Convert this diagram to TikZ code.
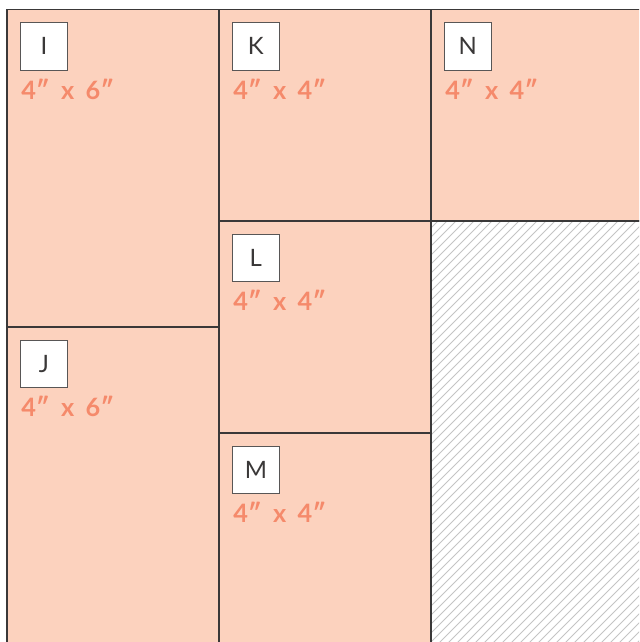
\documentclass[tikz,border=0pt]{standalone}
\usepackage{fontspec}
\setmainfont{Lato}
\usepackage{xcolor}
\usetikzlibrary{positioning}

\definecolor{peach}{HTML}{FCD2BE}
\definecolor{salmon}{HTML}{F58A6B}
\definecolor{edge}{HTML}{3A3838}
\definecolor{hatchgray}{HTML}{C4C4C4}

\newcommand{\dimsfont}{\fontsize{18}{18}\selectfont\bfseries\spaceskip=0.45em\relax}

\tikzset{
	cell/.style={fill=peach, draw=edge, line width=0.8pt},
	tag/.style={draw=edge!85, line width=0.5pt, fill=white, anchor=north west, minimum width=1.175cm, minimum height=1.175cm, inner sep=0pt, text=edge, font=\fontsize{17}{17}\selectfont},
	dims/.style={text=salmon, anchor=base west, inner sep=0pt, font=\dimsfont},
}

\begin{document}
\begin{tikzpicture}[x=0.025cm, y=-0.025cm]
		\useasboundingbox (0, 0) rectangle (639, 642);
		\clip (0, 0) rectangle (639, 642);
		% Blocks:
		\filldraw[cell] (7, 9.5) rectangle (219, 327);
		\filldraw[cell] (7, 327) rectangle (219, 660);
		\filldraw[cell] (219, 9.5) rectangle (431, 221);
		\filldraw[cell] (219, 221) rectangle (431, 433);
		\filldraw[cell] (219, 433) rectangle (431, 660);
		\filldraw[cell] (431, 9.5) rectangle (660, 221);
		% Empty corner, hatched:
		\begin{scope}
			\clip (431, 221) rectangle (660, 660);
			\foreach \i in {0,...,75}
				\draw[hatchgray, line width=0.6pt] (431 - 450 + \i*9, 660) -- ++(450, -450);
		\end{scope}
		\draw[edge, line width=0.8pt] (431, 221) -- (431, 660);
		\draw[edge, line width=0.8pt] (431, 221) -- (660, 221);
		% Tags and sizes:
		\node[tag](T1) at (20, 22.5){I};
		\node[dims](S1) at ([xshift=0.025cm, yshift=-0.725cm]T1.south west){4″ x 6″};
		\node[tag](T2) at (20, 340){J};
		\node[dims](S2) at ([xshift=0.025cm, yshift=-0.725cm]T2.south west){4″ x 6″};
		\node[tag](T3) at (232, 22.5){K};
		\node[dims](S3) at ([xshift=0.025cm, yshift=-0.725cm]T3.south west){4″ x 4″};
		\node[tag](T4) at (232, 234){L};
		\node[dims](S4) at ([xshift=0.025cm, yshift=-0.725cm]T4.south west){4″ x 4″};
		\node[tag](T5) at (232, 446){M};
		\node[dims](S5) at ([xshift=0.025cm, yshift=-0.725cm]T5.south west){4″ x 4″};
		\node[tag](T6) at (444, 22.5){N};
		\node[dims](S6) at ([xshift=0.025cm, yshift=-0.725cm]T6.south west){4″ x 4″};
	\end{tikzpicture}
\end{document}
